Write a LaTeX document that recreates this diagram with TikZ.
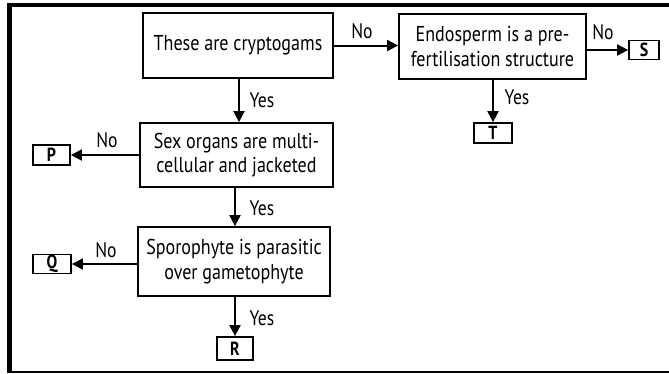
\documentclass[tikz,border=0pt]{standalone}
\usepackage{fontspec}
\setmainfont{PT Sans}[FakeStretch=0.84]
\usetikzlibrary{arrows.meta}
\begin{document}
\begin{tikzpicture}[x=1pt,y=-1pt,
  qbox/.style={draw,line width=1.8pt,minimum width=#1,align=center,inner sep=0pt},
  qbox/.default=190pt,
  lbox/.style={draw,line width=1.8pt,inner sep=0pt,font=\fontsize{19}{21}\selectfont\bfseries},
  arr/.style={line width=2pt,-{Triangle[length=11pt,width=11pt]}},
  lab/.style={font=\fontsize{21}{23}\selectfont,inner sep=0pt},
  font=\fontsize{21.5}{24.5}\selectfont]
\useasboundingbox (0,0) rectangle (669,373);
% frame
\draw[line width=4pt] (7,5) -- (669,5);
\draw[line width=5pt] (9.5,3) -- (9.5,373);
\draw[line width=1.5pt] (7,372) -- (669,372);
% decision boxes
\node[qbox=190pt,minimum height=65pt] (c1) at (238,45.5) {These are cryptogams};
\node[qbox=193pt,minimum height=64pt] (c2) at (236.5,155) {Sex organs are multi-\\cellular and jacketed};
\node[qbox=192pt,minimum height=69pt] (c3) at (234,261.5) {Sporophyte is parasitic\\over gametophyte};
\node[qbox=187pt,minimum height=65pt] (c4) at (492.5,46.5) {Endosperm is a pre-\\fertilisation structure};
% result boxes
\node[lbox,minimum width=37pt,minimum height=20pt] (P) at (51.5,155) {P};
\node[lbox,minimum width=38pt,minimum height=19pt] (Q) at (52,264) {Q};
\node[lbox,minimum width=36pt,minimum height=23pt] (R) at (235,348.5) {R};
\node[lbox,minimum width=30pt,minimum height=19pt] (S) at (644,50) {S};
\node[lbox,minimum width=38pt,minimum height=20pt] (T) at (493,133) {T};
% connectors
\draw[arr] (c1.south -| 239,0) -- (c2.north -| 239,0);
\draw[arr] (c2.south -| 235,0) -- (c3.north -| 235,0);
\draw[arr] (c3.south -| 235,0) -- (R.north -| 235,0);
\draw[arr] (c2.west) -- (P.east);
\draw[arr] (c3.west |- 0,264) -- (Q.east);
\draw[arr] (c1.east) -- (c4.west |- c1.east);
\draw[arr] (c4.east |- S.west) -- (S.west);
\draw[arr] (c4.south -| T.north) -- (T.north);
% labels
\node[lab] (y1) at (262,100) {Yes};
\node[lab] (y2) at (262,208) {Yes};
\node[lab] (y3) at (262,318) {Yes};
\node[lab] (y4) at (517,97) {Yes};
\node[lab] (n1) at (107,140) {No};
\node[lab] (n2) at (106,250) {No};
\node[lab] (n3) at (362,31) {No};
\node[lab] (n4) at (603,32) {No};
\end{tikzpicture}
\end{document}
